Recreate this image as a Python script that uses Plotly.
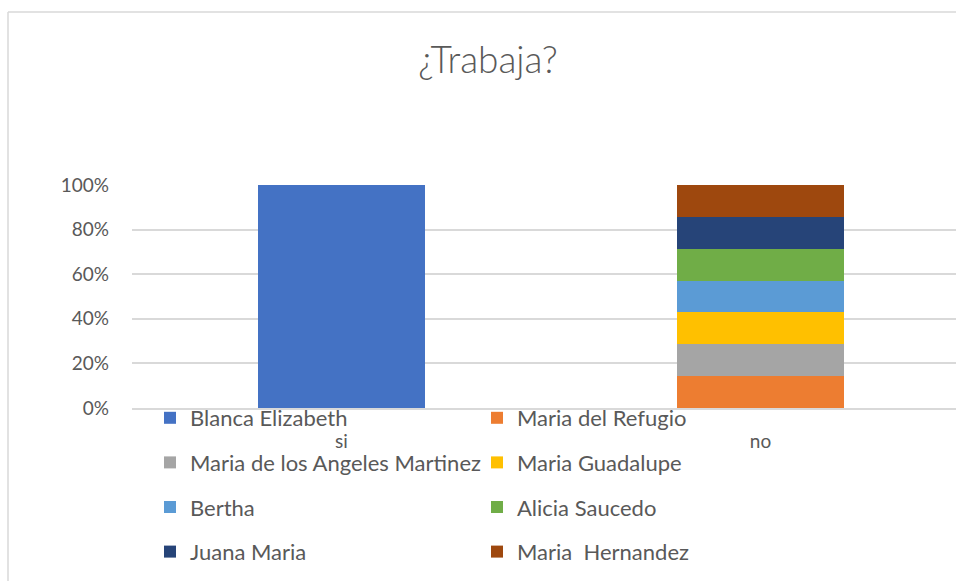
import plotly.graph_objects as go

# Categories on the x axis
categories = ["si", "no"]

# Series (one per person) and their values per category
series_names = [
    "Blanca Elizabeth",
    "Maria del Refugio",
    "Maria de los Angeles Martinez",
    "Maria Guadalupe",
    "Bertha",
    "Alicia Saucedo",
    "Juana Maria",
    "Maria  Hernandez",
]
blanca_elizabeth = [1, 0]
maria_del_refugio = [0, 1]
maria_angeles_martinez = [0, 1]
maria_guadalupe = [0, 1]
bertha = [0, 1]
alicia_saucedo = [0, 1]
juana_maria = [0, 1]
maria_hernandez = [0, 1]

series_values = [
    blanca_elizabeth,
    maria_del_refugio,
    maria_angeles_martinez,
    maria_guadalupe,
    bertha,
    alicia_saucedo,
    juana_maria,
    maria_hernandez,
]

colors = ["#4472C4", "#ED7D31", "#A5A5A5", "#FFC000",
          "#5B9BD5", "#70AD47", "#264478", "#9E480E"]

y_ticks = [0, 0.2, 0.4, 0.6, 0.8, 1.0]

FONT = "Lato, Carlito, Calibri, sans-serif"
TEXT = "#595959"
GRID = "#D9D9D9"

# Plot-area geometry in pixels (used to place decorations in paper coords)
W, H = 956, 581
L, R, T, B = 132, 0, 185, 173
PW, PH = W - L - R, H - T - B


def px_x(x):
    return (x - L) / PW


def px_y(y):
    return (H - B - y) / PH


fig = go.Figure()
for i, (name, vals, col) in enumerate(zip(series_names, series_values, colors)):
    fig.add_trace(go.Bar(
        x=categories,
        y=vals,
        name=name,
        marker=dict(color=col, line=dict(width=0)),
        legend="legend" if i % 2 == 0 else "legend2",
        legendgroup=name,
        hoverinfo="skip",
    ))

legend_common = dict(
    orientation="v",
    font=dict(family=FONT, size=22, color=TEXT),
    bgcolor="rgba(0,0,0,0)",
    tracegroupgap=13,
    traceorder="grouped",
    yanchor="top",
    xanchor="left",
)

fig.update_layout(
    width=W,
    height=H,
    margin=dict(l=L, r=R, t=T, b=B, pad=0),
    paper_bgcolor="white",
    plot_bgcolor="white",
    barmode="stack",
    barnorm="fraction",
    bargap=0.6,
    title=dict(
        text="¿Trabaja?",
        x=px_x(488),
        xref="paper",
        xanchor="center",
        y=1 - 60 / H,
        yref="container",
        yanchor="middle",
        font=dict(family=FONT, size=37, color=TEXT, weight=300),
    ),
    xaxis=dict(
        range=[-0.5, -0.5 + PW / 419],
        showgrid=False,
        showline=True,
        linecolor=GRID,
        linewidth=1.5,
        ticks="",
        ticklabelstandoff=15,
        tickfont=dict(family=FONT, size=19, color=TEXT),
        zeroline=False,
        fixedrange=True,
    ),
    yaxis=dict(
        range=[0, 1],
        tickvals=y_ticks,
        tickformat=".0%",
        showgrid=True,
        gridcolor=GRID,
        gridwidth=1.5,
        zeroline=False,
        showline=False,
        ticks="",
        ticklabelstandoff=22,
        tickfont=dict(family=FONT, size=19, color=TEXT),
        fixedrange=True,
    ),
    legend=dict(x=px_x(150), y=px_y(397), **legend_common),
    legend2=dict(x=px_x(477), y=px_y(397), **legend_common),
    showlegend=True,
    shapes=[
        # chart-area frame (top and left edges)
        dict(type="line", xref="paper", yref="paper",
             x0=px_x(8), x1=px_x(W + 20), y0=px_y(12), y1=px_y(12),
             line=dict(color=GRID, width=1.5), layer="below"),
        dict(type="line", xref="paper", yref="paper",
             x0=px_x(8), x1=px_x(8), y0=px_y(12), y1=px_y(H + 20),
             line=dict(color=GRID, width=1.5), layer="below"),
    ],
)

fig.write_html("out.html", config={"displayModeBar": False})
